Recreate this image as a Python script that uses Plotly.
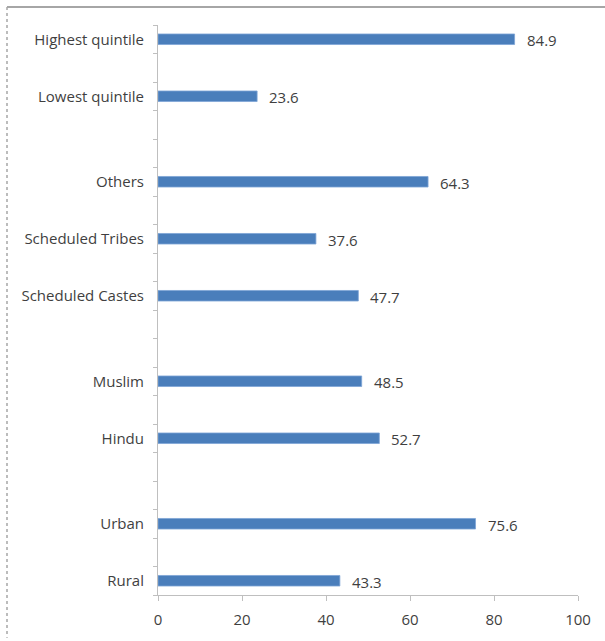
import plotly.graph_objects as go

# Categories bottom to top; blank slots are spacer categories (unique whitespace names)
categories = ["Rural", " ", "Urban", "  ", "   ", "Hindu", "    ", "Muslim", "     ", "      ",
              "Scheduled Castes", "       ", "Scheduled Tribes", "        ", "Others",
              "         ", "          ", "Lowest quintile", "           ", "Highest quintile"]
values = [43.3, None, 75.6, None, None, 52.7, None, 48.5, None, None,
          47.7, None, 37.6, None, 64.3, None, None, 23.6, None, 84.9]
x_ticks = [0, 20, 40, 60, 80, 100]

FONT = "Open Sans, Lato, sans-serif"
TXT = "#3f3f3f"

fig = go.Figure(go.Bar(
    y=categories, x=values, orientation="h",
    width=0.37,
    marker=dict(color="#4a7ebb", line=dict(color="#7da4d6", width=0.8)),
    hoverinfo="skip",
))

annotations = []
for c, v in zip(categories, values):
    if v is None:
        continue
    annotations.append(dict(x=v, y=c, xref="x", yref="y", text=f"{v:.1f}",
                            showarrow=False, xanchor="left", yanchor="middle",
                            xshift=10, yshift=-1,
                            font=dict(family=FONT, size=15, color=TXT)))

W, H = 605, 641
L, R, T, B = 158, 27, 25, 43
pw, ph = W - L - R, H - T - B

def px_x(x):
    return (x - L) / pw

def px_y(y):
    return (H - B - y) / ph

fig.update_layout(
    width=W, height=H,
    margin=dict(l=L, r=R, t=T, b=B, pad=0),
    plot_bgcolor="white", paper_bgcolor="white",
    showlegend=False,
    font=dict(family=FONT, size=15, color=TXT),
    annotations=annotations,
    xaxis=dict(range=[0, 100], tickvals=x_ticks, showgrid=False, zeroline=False,
               showline=True, linecolor="#bfbfbf", linewidth=1,
               ticks="outside", ticklen=5, tickcolor="#bfbfbf",
               ticklabelstandoff=6, tickfont=dict(size=15), fixedrange=True),
    yaxis=dict(type="category", categoryorder="array", categoryarray=categories,
               showgrid=False, zeroline=False, showline=True, linecolor="#bfbfbf",
               linewidth=1, ticks="outside", ticklen=4, tickcolor="#bfbfbf",
               tickson="boundaries", ticklabelstandoff=10, fixedrange=True),
    shapes=[
        dict(type="line", xref="paper", yref="paper",
             x0=px_x(7), x1=px_x(605), y0=px_y(7), y1=px_y(7),
             line=dict(color="#a6a6a6", width=2)),
        dict(type="line", xref="paper", yref="paper",
             x0=px_x(7), x1=px_x(7), y0=px_y(7), y1=px_y(641),
             line=dict(color="#a6a6a6", width=1.5, dash="dot")),
    ],
)

fig.write_html("out.html")
